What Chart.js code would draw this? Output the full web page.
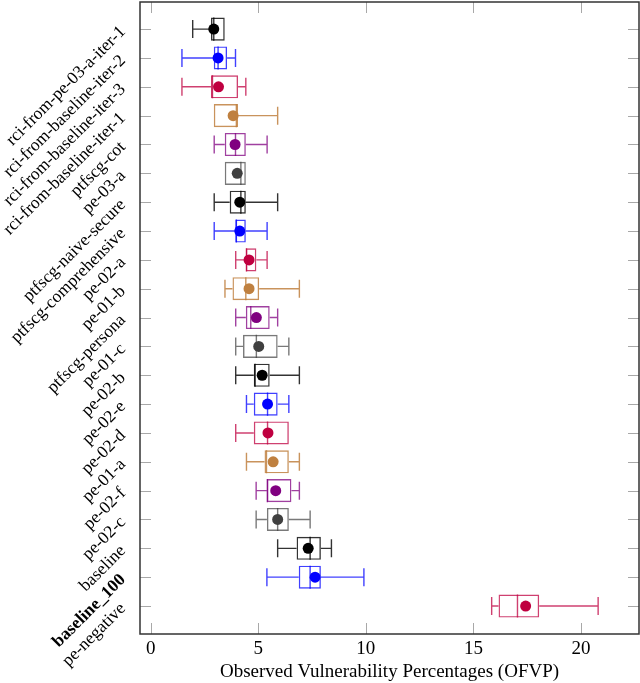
<!DOCTYPE html>
<html>
<head>
<meta charset="utf-8">
<script src="https://cdn.jsdelivr.net/npm/chart.js@4"></script>
<style>
  body { margin: 0; background: #fff; overflow: hidden; }
  #wrap { width: 640px; height: 683px; }
</style>
</head>
<body>
<div id="wrap"><canvas id="c"></canvas></div>
<script>
// categories, top to bottom
const methods = ['rci-from-pe-03-a-iter-1', 'rci-from-baseline-iter-2', 'rci-from-baseline-iter-3',
  'rci-from-baseline-iter-1', 'ptfscg-cot', 'pe-03-a', 'ptfscg-naive-secure', 'ptfscg-comprehensive',
  'pe-02-a', 'pe-01-b', 'ptfscg-persona', 'pe-01-c', 'pe-02-b', 'pe-02-e', 'pe-02-d', 'pe-01-a',
  'pe-02-f', 'pe-02-c', 'baseline', 'baseline_100', 'pe-negative'];

// box plot values (OFVP, %)
const lowWhisker = [1.95, 1.45, 1.45, 2.95, 2.95, 3.45, 2.95, 2.95, 3.95, 3.45, 3.95, 3.95, 3.95, 4.45, 3.95, 4.45, 4.9, 4.9, 5.9, 5.4, 15.85];
const q1 = [2.8, 2.93, 2.8, 2.93, 3.44, 3.44, 3.67, 3.93, 4.42, 3.8, 4.42, 4.29, 4.79, 4.79, 4.79, 5.29, 5.4, 5.4, 6.78, 6.88, 16.17];
const median = [2.93, 3.13, 2.87, 3.98, 3.94, 4.19, 4.19, 3.98, 4.45, 4.42, 4.65, 4.91, 4.85, 5.43, 5.43, 5.38, 5.42, 5.9, 7.41, 7.41, 17.05];
const q3 = [3.44, 3.55, 4.06, 4.06, 4.42, 4.42, 4.42, 4.42, 4.91, 5.04, 5.53, 5.9, 5.53, 5.9, 6.42, 6.42, 6.54, 6.42, 7.91, 7.91, 18.06];
const highWhisker = [3.44, 3.94, 4.42, 5.9, 5.41, 4.42, 5.9, 5.41, 5.41, 6.91, 5.9, 6.42, 6.91, 6.42, 6.42, 6.91, 6.91, 7.41, 8.4, 9.91, 20.8];
const mean = [2.93, 3.13, 3.15, 3.83, 3.92, 4.02, 4.14, 4.14, 4.57, 4.57, 4.91, 5.02, 5.18, 5.43, 5.45, 5.69, 5.81, 5.9, 7.32, 7.64, 17.43];

const xTicks = [0, 5, 10, 15, 20];

// colour cycle used by the figure
const palette = ['#000000', '#0000ff', '#bf0040', '#bf8040', '#800080', '#404040'];
const lineCol = ['rgba(0,0,0,0.8)', 'rgba(0,0,255,0.75)', 'rgba(191,0,64,0.75)', 'rgba(191,128,64,0.85)', 'rgba(128,0,128,0.75)', 'rgba(64,64,64,0.7)'];
const colOf = i => palette[i % palette.length];
const lineOf = i => lineCol[i % lineCol.length];

const serif = 'Liberation Serif';

const boxExtras = {
  id: 'boxExtras',
  afterDatasetDraw(chart, args) {
    if (args.index !== 0) return;
    const ctx = chart.ctx, xs = chart.scales.x, ys = chart.scales.y;
    const half = 9;
    ctx.save();
    ctx.lineWidth = 1.4;
    methods.forEach((m, i) => {
      const y = ys.getPixelForValue(i);
      const bh = args.meta.data[i].height / 2;
      const xl = xs.getPixelForValue(lowWhisker[i]), xq1 = xs.getPixelForValue(q1[i]);
      const xq3 = xs.getPixelForValue(q3[i]), xh = xs.getPixelForValue(highWhisker[i]);
      const xm = xs.getPixelForValue(median[i]);
      ctx.strokeStyle = lineOf(i);
      ctx.beginPath();
      if (xq1 - xl > 1) {
        ctx.moveTo(xl, y); ctx.lineTo(xq1, y);
        ctx.moveTo(xl, y - half); ctx.lineTo(xl, y + half);
      }
      if (xh - xq3 > 1) {
        ctx.moveTo(xq3, y); ctx.lineTo(xh, y);
        ctx.moveTo(xh, y - half); ctx.lineTo(xh, y + half);
      }
      ctx.moveTo(xm, y - bh); ctx.lineTo(xm, y + bh);
      ctx.stroke();
    });
    ctx.restore();
  },
  afterDraw(chart) {
    const ctx = chart.ctx, xs = chart.scales.x, ys = chart.scales.y;
    const a = chart.chartArea, tl = 11;
    ctx.save();
    ctx.strokeStyle = '#a8a8a8';
    ctx.lineWidth = 1;
    ctx.beginPath();
    xTicks.forEach(v => {
      const x = Math.round(xs.getPixelForValue(v)) + 0.5;
      ctx.moveTo(x, a.bottom); ctx.lineTo(x, a.bottom - tl);
      ctx.moveTo(x, a.top); ctx.lineTo(x, a.top + tl);
    });
    methods.forEach((m, i) => {
      const y = Math.round(ys.getPixelForValue(i)) + 0.5;
      ctx.moveTo(a.left, y); ctx.lineTo(a.left + tl, y);
      ctx.moveTo(a.right, y); ctx.lineTo(a.right - tl, y);
    });
    ctx.stroke();
    ctx.strokeStyle = '#333';
    ctx.lineWidth = 1.5;
    ctx.strokeRect(a.left, a.top, a.right - a.left, a.bottom - a.top);
    ctx.restore();
  }
};

new Chart(document.getElementById('c'), {
  type: 'bar',
  data: {
    labels: methods,
    datasets: [
      {
        label: 'box',
        data: methods.map((m, i) => ({ x: [q1[i], q3[i]], y: i })),
        backgroundColor: 'rgba(255,255,255,0)',
        borderColor: methods.map((m, i) => lineOf(i)),
        borderWidth: 1.4,
        borderSkipped: false,
        barPercentage: 0.8,
        categoryPercentage: 1
      },
      {
        type: 'line',
        label: 'mean',
        data: methods.map((m, i) => ({ x: mean[i], y: i })),
        showLine: false,
        pointRadius: 5.5,
        pointBorderWidth: 0,
        pointBackgroundColor: methods.map((m, i) => colOf(i)),
        pointBorderColor: methods.map((m, i) => colOf(i))
      }
    ]
  },
  options: {
    indexAxis: 'y',
    responsive: true,
    maintainAspectRatio: false,
    animation: false,
    layout: { autoPadding: false, padding: { top: 2, right: 1, left: 0, bottom: 0 } },
    plugins: { legend: { display: false }, tooltip: { enabled: false } },
    scales: {
      x: {
        type: 'linear',
        min: -0.5,
        max: 22.7,
        offset: false,
        grid: { display: false },
        border: { display: false },
        afterBuildTicks: s => { s.ticks = xTicks.map(v => ({ value: v })); },
        afterFit: s => { s.height = 49; s.paddingLeft = 0; s.paddingRight = 0; },
        ticks: { color: '#000', padding: -4, font: { family: serif, size: 19 } },
        title: {
          display: true,
          text: 'Observed Vulnerability Percentages (OFVP)',
          color: '#000',
          padding: { top: 0, bottom: 0 },
          font: { family: serif, size: 19 }
        }
      },
      y: {
        type: 'linear',
        reverse: true,
        offset: false,
        min: -0.94,
        max: 20.97,
        grid: { display: false },
        border: { display: false },
        afterBuildTicks: s => { s.ticks = methods.map((m, i) => ({ value: i })); },
        afterFit: s => { s.width = 140; s.paddingTop = 0; s.paddingBottom = 0; },
        ticks: {
          color: '#000',
          padding: 9,
          minRotation: 45,
          maxRotation: 45,
          autoSkip: false,
          callback: v => methods[v],
          font: c => ({
            family: serif,
            size: 17.5,
            weight: (c.tick && methods[c.tick.value] === 'baseline_100') ? 'bold' : 'normal'
          })
        }
      }
    }
  },
  plugins: [boxExtras]
});
</script>
</body>
</html>
